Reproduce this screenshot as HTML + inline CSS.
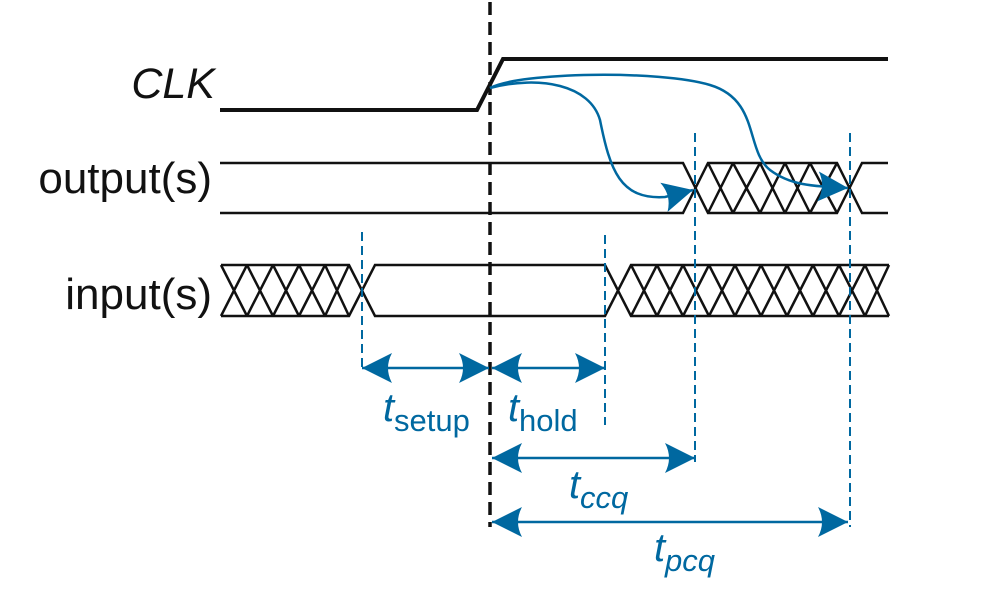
<!DOCTYPE html>
<html><head><meta charset="utf-8"><style>
html,body{margin:0;padding:0;background:#fff;}
svg{display:block;}
</style></head><body>
<svg width="988" height="610" viewBox="0 0 988 610" xmlns="http://www.w3.org/2000/svg">
<defs>
<marker id="ah" viewBox="0 0 30 30" refX="30" refY="15" markerWidth="30" markerHeight="30" markerUnits="userSpaceOnUse" orient="auto-start-reverse">
<path d="M0,0 L30,15 L0,30 Q8,15 0,0 Z" fill="#0068a0"/>
</marker>
</defs>
<g font-family="Liberation Sans, sans-serif" fill="#111">
<text x="215" y="98" font-size="43" font-style="italic" text-anchor="end">CLK</text>
<text x="212" y="193" font-size="44" text-anchor="end">output(s)</text>
<text x="212" y="309" font-size="44" text-anchor="end">input(s)</text>
</g>
<g stroke="#111" fill="none" stroke-linejoin="miter">
<polyline points="220,110 477,110 503,59 888,59" stroke-width="4"/>
<g stroke-width="2.5">
<polyline points="220,163 683,163 708,213 837,213 862,163 888,163"/>
<polyline points="220,213 683,213 708,163 837,163 862,213 888,213"/>
<path d="M708,163 L733,213 M733,163 L708,213 M733,163 L760,213 M760,163 L733,213 M760,163 L785,213 M785,163 L760,213 M785,163 L810,213 M810,163 L785,213 M810,163 L837,213 M837,163 L810,213"/>
<polyline points="221,265 349,265 375,316 605,316 631,265 889,265"/>
<polyline points="221,316 349,316 375,265 605,265 631,316 889,316"/>
<path d="M221,265 L247,316 M247,265 L221,316 M247,265 L273,316 M273,265 L247,316 M273,265 L299,316 M299,265 L273,316 M299,265 L325,316 M325,265 L299,316 M325,265 L349,316 M349,265 L325,316"/>
<path d="M631,265 L657,316 M657,265 L631,316 M657,265 L683,316 M683,265 L657,316 M683,265 L709,316 M709,265 L683,316 M709,265 L735,316 M735,265 L709,316 M735,265 L761,316 M761,265 L735,316 M761,265 L787,316 M787,265 L761,316 M787,265 L813,316 M813,265 L787,316 M813,265 L839,316 M839,265 L813,316 M839,265 L865,316 M865,265 L839,316 M865,265 L889,316 M889,265 L865,316"/>
</g>
<line x1="490" y1="2" x2="490" y2="527" stroke-width="3.5" stroke-dasharray="13,7"/>
</g>
<g stroke="#0068a0" fill="none" stroke-width="2" stroke-dasharray="9,5">
<line x1="362" y1="232" x2="362" y2="372"/>
<line x1="605" y1="235" x2="605" y2="425"/>
<line x1="695" y1="133" x2="695" y2="462"/>
<line x1="850" y1="133" x2="850" y2="527"/>
</g>
<g stroke="#0068a0" fill="none" stroke-width="2.5">
<path d="M490,88 C540,75 590,85 600,120 C610,170 620,200 665,197 L693,190" marker-end="url(#ah)"/>
<path d="M490,88 C520,72 660,70 710,85 C760,100 745,150 770,170 C790,185 810,186 848,188" marker-end="url(#ah)"/>
<line x1="362" y1="368" x2="489" y2="368" marker-start="url(#ah)" marker-end="url(#ah)"/>
<line x1="492" y1="368" x2="605" y2="368" marker-start="url(#ah)" marker-end="url(#ah)"/>
<line x1="492" y1="458" x2="695" y2="458" marker-start="url(#ah)" marker-end="url(#ah)"/>
<line x1="492" y1="522" x2="848" y2="522" marker-start="url(#ah)" marker-end="url(#ah)"/>
</g>
<g font-family="Liberation Sans, sans-serif" fill="#0068a0">
<text x="383" y="421" font-size="40" font-style="italic">t</text>
<text x="394" y="431" font-size="31">setup</text>
<text x="508" y="421" font-size="40" font-style="italic">t</text>
<text x="519" y="431" font-size="31">hold</text>
<text x="569" y="498" font-size="40" font-style="italic">t</text>
<text x="580" y="508" font-size="31" font-style="italic">ccq</text>
<text x="654" y="561" font-size="40" font-style="italic">t</text>
<text x="665" y="571" font-size="31" font-style="italic">pcq</text>
</g>
</svg>
</body></html>
